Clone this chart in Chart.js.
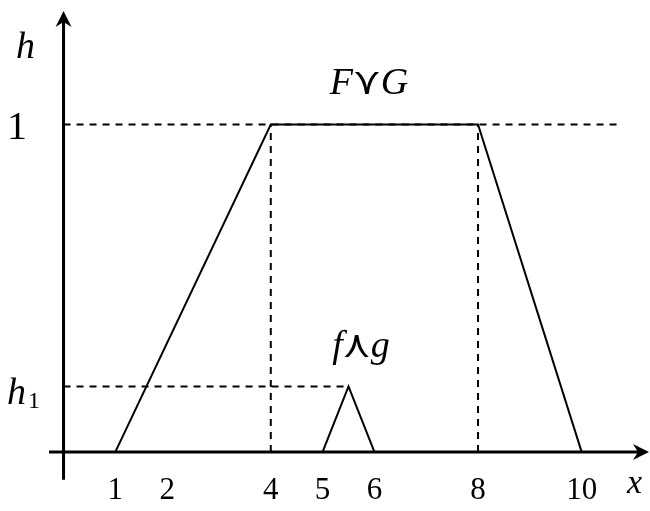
<!DOCTYPE html>
<html>
<head>
<meta charset="utf-8">
<script src="https://cdn.jsdelivr.net/npm/chart.js@4"></script>
<style>
  body { margin: 0; background: #fff; }
  #wrap { width: 650px; height: 511px; position: relative; }
</style>
</head>
<body>
<div id="wrap"><canvas id="fuzzyChart"></canvas></div>
<script>
// F v G (trapezoid) and f ^ g (small triangle)
const bigX = [1, 4, 8, 10];
const bigH = [0, 1, 1, 0];
const smallX = [5, 5.5, 6];
const smallH = [0, 0.2, 0];
const h1 = 0.2;
const xTickValues = [1, 2, 4, 5, 6, 8, 10];
const xTickLabels = ['1', '2', '4', '5', '6', '8', '10'];
const topLineEnd = 10.7;

const toPoints = (xs, ys) => xs.map((x, i) => ({ x: x, y: ys[i] }));

const serif = '"Liberation Serif", "Times New Roman", serif';
const mathFont = '"Liberation Serif", "DejaVu Serif", "DejaVu Sans", serif';

function arrowHead(ctx, tipX, tipY, dir) {
  // dir: 'up' or 'right'
  ctx.save();
  ctx.translate(tipX, tipY);
  if (dir === 'right') ctx.rotate(Math.PI / 2);
  ctx.beginPath();
  ctx.moveTo(0, 0);
  ctx.lineTo(8, 16);
  ctx.lineTo(0, 11);
  ctx.lineTo(-8, 16);
  ctx.closePath();
  ctx.fill();
  ctx.restore();
}

// italic letters around an upright operator, centred on cx
function mathLabel(ctx, left, op, right, cx, baseline, size) {
  const it = 'italic ' + size + 'px ' + mathFont;
  const up = size + 'px ' + mathFont;
  ctx.font = it;
  const wl = ctx.measureText(left).width;
  const wr = ctx.measureText(right).width;
  ctx.font = up;
  const wo = ctx.measureText(op).width;
  let x = cx - (wl + wo + wr) / 2;
  ctx.textAlign = 'left';
  ctx.font = it;
  ctx.fillText(left, x, baseline);
  x += wl;
  ctx.font = up;
  ctx.fillText(op, x, baseline);
  x += wo;
  ctx.font = it;
  ctx.fillText(right, x, baseline);
}

const axesPlugin = {
  id: 'axesPlugin',
  afterDraw(chart) {
    const ctx = chart.ctx;
    const xs = chart.scales.x;
    const ys = chart.scales.y;
    const x0 = xs.getPixelForValue(0);
    const y0 = ys.getPixelForValue(0);
    const area = chart.chartArea;

    ctx.save();
    ctx.strokeStyle = '#000';
    ctx.fillStyle = '#000';
    ctx.lineWidth = 3;

    // y axis
    ctx.beginPath();
    ctx.moveTo(x0, ys.getPixelForValue(-0.085));
    ctx.lineTo(x0, area.top + 8);
    ctx.stroke();
    arrowHead(ctx, x0, area.top + 1, 'up');

    // x axis
    ctx.beginPath();
    ctx.moveTo(xs.getPixelForValue(-0.28), y0);
    ctx.lineTo(area.right - 8, y0);
    ctx.stroke();
    arrowHead(ctx, area.right, y0, 'right');

    // x tick labels
    ctx.font = '31px ' + serif;
    ctx.textAlign = 'center';
    ctx.textBaseline = 'alphabetic';
    xTickValues.forEach((v, i) => {
      ctx.fillText(xTickLabels[i], xs.getPixelForValue(v), y0 + 47);
    });

    // y labels
    ctx.font = '40px ' + serif;
    ctx.textAlign = 'left';
    ctx.fillText('1', 7, ys.getPixelForValue(1) + 14);

    ctx.font = 'italic 38px ' + serif;
    ctx.fillText('h', 16, 58);
    ctx.fillText('h', 7, ys.getPixelForValue(h1) + 18);
    ctx.font = '24px ' + serif;
    ctx.fillText('1', 28, ys.getPixelForValue(h1) + 22);

    ctx.font = 'italic 34px ' + serif;
    ctx.fillText('x', 627, y0 + 41);

    // series names
    mathLabel(ctx, 'F', '\u22CE', 'G', 369, 94, 38);
    mathLabel(ctx, 'f', '\u22CF', 'g', 361, 357, 38);

    ctx.restore();
  }
};

const dash = [7, 6];

new Chart(document.getElementById('fuzzyChart').getContext('2d'), {
  type: 'scatter',
  data: {
    datasets: [
      {
        label: 'F\u22CEG',
        data: toPoints(bigX, bigH),
        showLine: true,
        borderColor: '#000',
        borderWidth: 2,
        pointRadius: 0,
        tension: 0
      },
      {
        label: 'f\u22CFg',
        data: toPoints(smallX, smallH),
        showLine: true,
        borderColor: '#000',
        borderWidth: 2,
        pointRadius: 0,
        tension: 0
      },
      {
        label: 'h = 1',
        data: [{ x: 0, y: 1 }, { x: topLineEnd, y: 1 }],
        showLine: true, borderColor: '#000', borderWidth: 2, borderDash: dash, pointRadius: 0
      },
      {
        label: 'x = 4',
        data: [{ x: bigX[1], y: 0 }, { x: bigX[1], y: bigH[1] }],
        showLine: true, borderColor: '#000', borderWidth: 2, borderDash: dash, pointRadius: 0
      },
      {
        label: 'x = 8',
        data: [{ x: bigX[2], y: 0 }, { x: bigX[2], y: bigH[2] }],
        showLine: true, borderColor: '#000', borderWidth: 2, borderDash: dash, pointRadius: 0
      },
      {
        label: 'h1',
        data: [{ x: 0, y: h1 }, { x: smallX[1], y: h1 }],
        showLine: true, borderColor: '#000', borderWidth: 2, borderDash: dash, pointRadius: 0
      }
    ]
  },
  options: {
    responsive: true,
    maintainAspectRatio: false,
    animation: false,
    layout: { padding: { left: 48, right: 1, top: 10, bottom: 10 } },
    plugins: {
      legend: { display: false },
      tooltip: { enabled: false }
    },
    scales: {
      x: { type: 'linear', min: -0.3, max: 11.3, display: false },
      y: { type: 'linear', min: -0.15, max: 1.35, display: false }
    }
  },
  plugins: [axesPlugin]
});
</script>
</body>
</html>
